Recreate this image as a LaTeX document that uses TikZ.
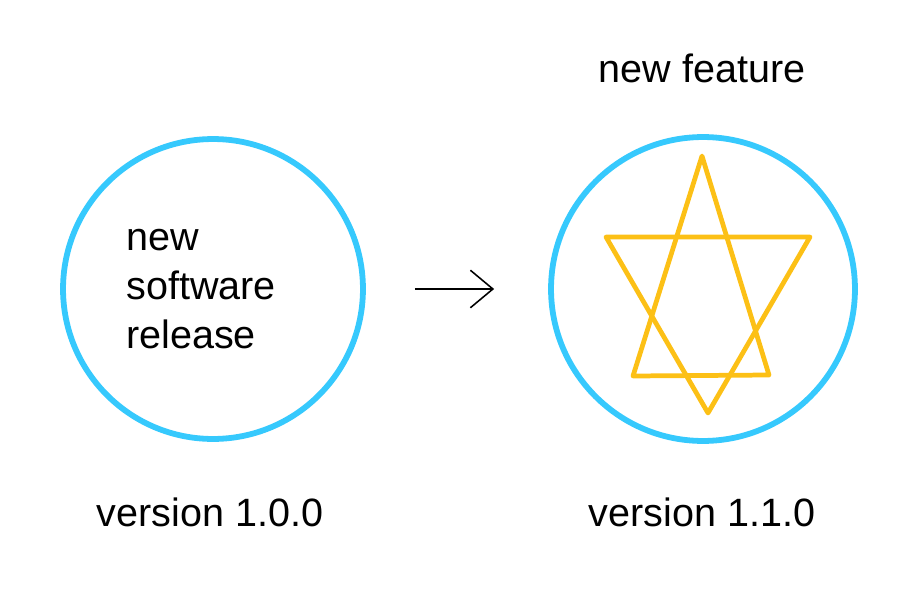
\documentclass[tikz,border=0pt]{standalone}
\usepackage{fontspec}
\setmainfont{Liberation Sans}
\usepackage{tikz}
\usetikzlibrary{arrows.meta}

\definecolor{ringblue}{HTML}{36C9FD}
\definecolor{staryellow}{HTML}{FCC016}

\tikzset{
  ring/.style={circle,draw=ringblue,line width=3.3pt,minimum size=6cm,inner sep=0pt},
  label/.style={font=\fontsize{22.5}{28}\selectfont,inner sep=0pt,text=black},
  starline/.style={draw=staryellow,line width=2.7pt,line cap=round,line join=round}
}

\begin{document}
\begin{tikzpicture}[x=0.02cm,y=-0.02cm]
    \useasboundingbox (0,0) rectangle (910,612);
    % the two releases
    \node[ring] (old) at (213,289) {};
    \node[ring,minimum size=6.08cm] (new) at (703,289) {};
    \node[label,align=left,anchor=west] (oldtext) at (126,289)
      {new\\software\\release};
    \node[label] (feat) at (702,68) {new feature};
    \node[label] (oldver) at (210,512) {version 1.0.0};
    \node[label] (newver) at (702,512) {version 1.1.0};
    % star of the new feature
    \coordinate (up1) at (702,156);
    \coordinate (up2) at (633,376);
    \coordinate (up3) at (769,375);
    \coordinate (dn1) at (606,237);
    \coordinate (dn2) at (810,237);
    \coordinate (dn3) at (708,413);
    \draw[starline] (up1) -- (up2) -- (up3) -- cycle;
    \draw[starline] (dn1) -- (dn2) -- (dn3) -- cycle;
    % arrow
    \draw[line width=0.9pt,-{Straight Barb[length=4.5mm,width=7.5mm]}]
      ([xshift=0.98cm]old.east) -- ([xshift=-1.08cm]new.west);
\end{tikzpicture}
\end{document}
